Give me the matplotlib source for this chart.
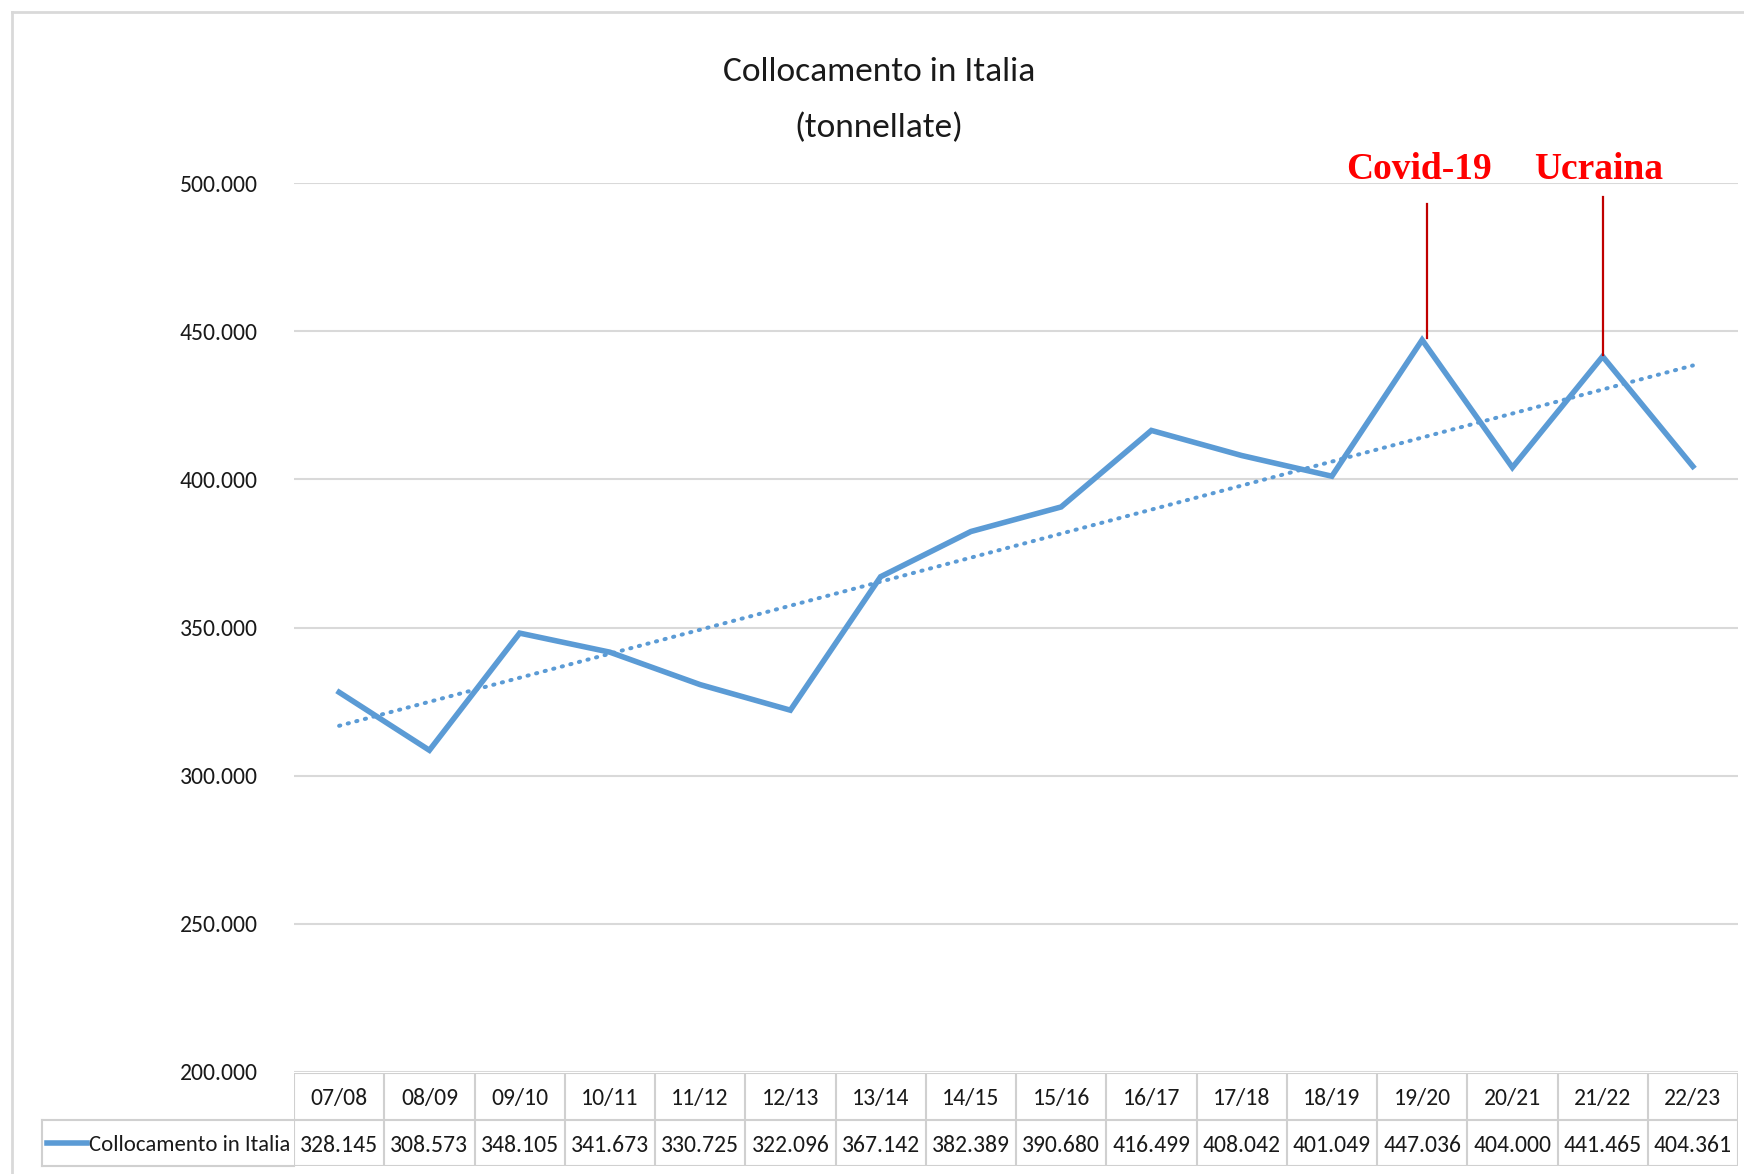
import matplotlib
matplotlib.use('Agg')
import matplotlib.pyplot as plt
import numpy as np
from matplotlib import font_manager
from matplotlib.lines import Line2D
from matplotlib.transforms import blended_transform_factory

# data
seasons = ['07/08', '08/09', '09/10', '10/11', '11/12', '12/13', '13/14', '14/15',
           '15/16', '16/17', '17/18', '18/19', '19/20', '20/21', '21/22', '22/23']
values = [328145, 308573, 348105, 341673, 330725, 322096, 367142, 382389,
          390680, 416499, 408042, 401049, 447036, 404000, 441465, 404361]
series_name = 'Collocamento in Italia'
events = ['Covid-19', 'Ucraina']
event_idx = [12, 14]
event_top = [493000, 495300]

# pick a narrow sans close to Calibri
names = {f.name for f in font_manager.fontManager.ttflist}
sans = next((n for n in ['Carlito', 'Liberation Sans Narrow', 'Open Sans']
             if n in names), 'DejaVu Sans')
plt.rcParams['font.family'] = [sans, 'DejaVu Sans']

W, H = 1744, 1174
blue = '#5B9BD5'
grid_c = '#D9D9D9'
txt_c = '#1A1A1A'
fs = 17

fig = plt.figure(figsize=(W / 100, H / 100), dpi=100)

# plot area in pixels
left, right = 294, 1738
top, base = 183, 1072
ax = fig.add_axes([left / W, 1 - base / H, (right - left) / W, (base - top) / H])
x = np.arange(len(seasons))
ax.set_xlim(-0.5, len(seasons) - 0.5)
ax.set_ylim(200000, 500000)
ax.set_yticks(np.arange(200000, 500001, 50000))
ax.set_yticklabels([f'{v:,.0f}'.replace(',', '.') for v in ax.get_yticks()])
ax.set_xticks([])
ax.tick_params(axis='y', length=0, pad=26, labelsize=17, labelcolor=txt_c)
for s in ax.spines.values():
    s.set_visible(False)
ax.grid(axis='y', color=grid_c, lw=1.5)
ax.set_axisbelow(True)

ax.plot(x, values, color=blue, lw=4.0, solid_joinstyle='miter', zorder=3)

# linear trend (as Excel)
k, b = np.polyfit(x, values, 1)
ax.plot(x, k * x + b, color=blue, lw=2.9, linestyle=(0, (0.3, 1.9)),
        dash_capstyle='round', zorder=2)

# event markers
for name, i, yt in zip(events, event_idx, event_top):
    xl = i + 0.05 if i == 12 else i
    ax.plot([xl, xl], [values[i] + 600, yt], color='#C00000', lw=1.6, zorder=4)
    ax.text(i - 0.04, 504700, name, ha='center', va='center', color='#FF0000',
            fontsize=27, fontweight='bold', family=['Liberation Serif', 'DejaVu Serif'],
            clip_on=False)

# title (two lines placed separately)
fig.text(879 / W, 1 - 72 / H, 'Collocamento in Italia', ha='center',
         va='center', fontsize=25.5, color=txt_c)
fig.text(879 / W, 1 - 128 / H, '(tonnellate)', ha='center',
         va='center', fontsize=25.5, color=txt_c)

# data table
t_top, t_mid, t_bot = 1073, 1120, 1166
tax = fig.add_axes([left / W, 1 - t_bot / H, (right - left) / W, (t_bot - t_top) / H])
tax.set_xlim(-0.5, len(seasons) - 0.5)
tax.set_ylim(0, 2)
tax.axis('off')
tc = '#D0D0D0'
for j in range(len(seasons) + 1):
    tax.plot([j - 0.5, j - 0.5], [0, 2], color=tc, lw=1.5)
for yy in (0, 1, 2):
    tax.plot([-0.5, len(seasons) - 0.5], [yy, yy], color=tc, lw=1.5)
for i, (s, v) in enumerate(zip(seasons, values)):
    tax.text(i, 1.45, s, ha='center', va='center', fontsize=fs, color=txt_c)
    tax.text(i, 0.45, f'{v:,.0f}'.replace(',', '.'), ha='center', va='center',
             fontsize=fs, color=txt_c)

# legend cell, left of the table
tr = blended_transform_factory(fig.transFigure, tax.transData)
lx = 42 / W
for yy in (0, 1):
    fig.add_artist(Line2D([lx, left / W], [yy, yy], transform=tr, color=tc, lw=1.5))
fig.add_artist(Line2D([lx, lx], [0, 1], transform=tr, color=tc, lw=1.5))
fig.add_artist(Line2D([47 / W, 87 / W], [0.5, 0.5], transform=tr, color=blue, lw=4.0))
fig.text(89 / W, 0.45, series_name, transform=tr, ha='left', va='center',
         fontsize=16.4, color=txt_c)

# outer chart border (left and top only visible)
fig.add_artist(Line2D([12 / W, 12 / W], [0, 1 - 12 / H], color=grid_c, lw=2))
fig.add_artist(Line2D([12 / W, 1], [1 - 12 / H, 1 - 12 / H], color=grid_c, lw=2))

fig.savefig('out.png', dpi=100, facecolor='white')
